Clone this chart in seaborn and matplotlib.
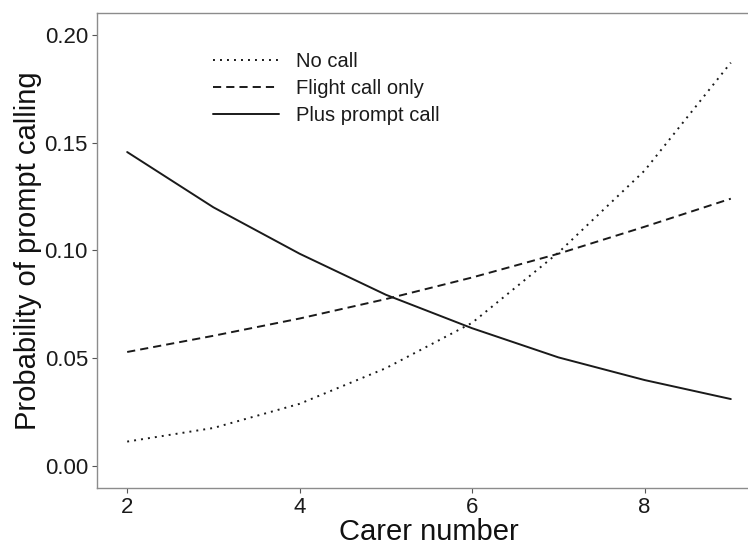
import numpy as np
import pandas as pd
import matplotlib
matplotlib.use("Agg")
import matplotlib.pyplot as plt
import seaborn as sns
from matplotlib.ticker import FormatStrFormatter

carers = [2, 3, 4, 5, 6, 7, 8, 9]
no_call = [0.0115, 0.0178, 0.0290, 0.0455, 0.0665, 0.0990, 0.1370, 0.1870]
flight_only = [0.0530, 0.0605, 0.0685, 0.0775, 0.0875, 0.0985, 0.1110, 0.1240]
plus_prompt = [0.1456, 0.1200, 0.0985, 0.0795, 0.0640, 0.0505, 0.0400, 0.0312]
series_names = ["No call", "Flight call only", "Plus prompt call"]

df = pd.DataFrame({
    "Carer number": carers * 3,
    "p": no_call + flight_only + plus_prompt,
    "series": [series_names[0]] * 8 + [series_names[1]] * 8 + [series_names[2]] * 8,
})

sns.set_theme(style="white")
plt.rcParams["font.family"] = ["Liberation Sans", "DejaVu Sans"]

fig = plt.figure(figsize=(7.48, 5.47), dpi=100)
ax = fig.add_axes([97 / 748, 1 - 488 / 547, (761 - 97) / 748, (488 - 13) / 547])

sns.lineplot(
    data=df, x="Carer number", y="p", style="series", hue="series",
    palette={n: "#1a1a1a" for n in series_names},
    dashes={"No call": (1, 2.6), "Flight call only": (4.2, 2.6), "Plus prompt call": ""},
    style_order=series_names, hue_order=series_names,
    linewidth=1.4, ax=ax, legend=True,
)

ax.set_xlim(1.65, 9.35)
ax.set_ylim(-0.01, 0.21)
ax.set_xticks([2, 4, 6, 8])
ax.set_yticks([0.0, 0.05, 0.10, 0.15, 0.20])
ax.yaxis.set_major_formatter(FormatStrFormatter("%.2f"))
ax.tick_params(axis="both", which="major", labelsize=16, length=3.5, width=0.8,
               color="#555555", labelcolor="#1a1a1a", direction="out",
               left=True, bottom=True, pad=3)
for s in ax.spines.values():
    s.set_color("#8c8c8c")
    s.set_linewidth(1.0)

ax.set_xlabel("Carer number", fontsize=21, color="#111111", labelpad=0)
ax.set_ylabel("Probability of prompt calling", fontsize=21, color="#111111", labelpad=2)

handles, labels = ax.get_legend_handles_labels()
leg = ax.legend(
    handles, labels, loc="upper left",
    bbox_to_anchor=(213 / 748, 1 - 52 / 547), bbox_transform=fig.transFigure,
    frameon=False, fontsize=14.5, handlelength=3.3, handletextpad=0.8,
    labelspacing=0.4, borderpad=0, borderaxespad=0, title=None,
)
for t in leg.get_texts():
    t.set_color("#1a1a1a")

fig.savefig("out.png", dpi=100)
